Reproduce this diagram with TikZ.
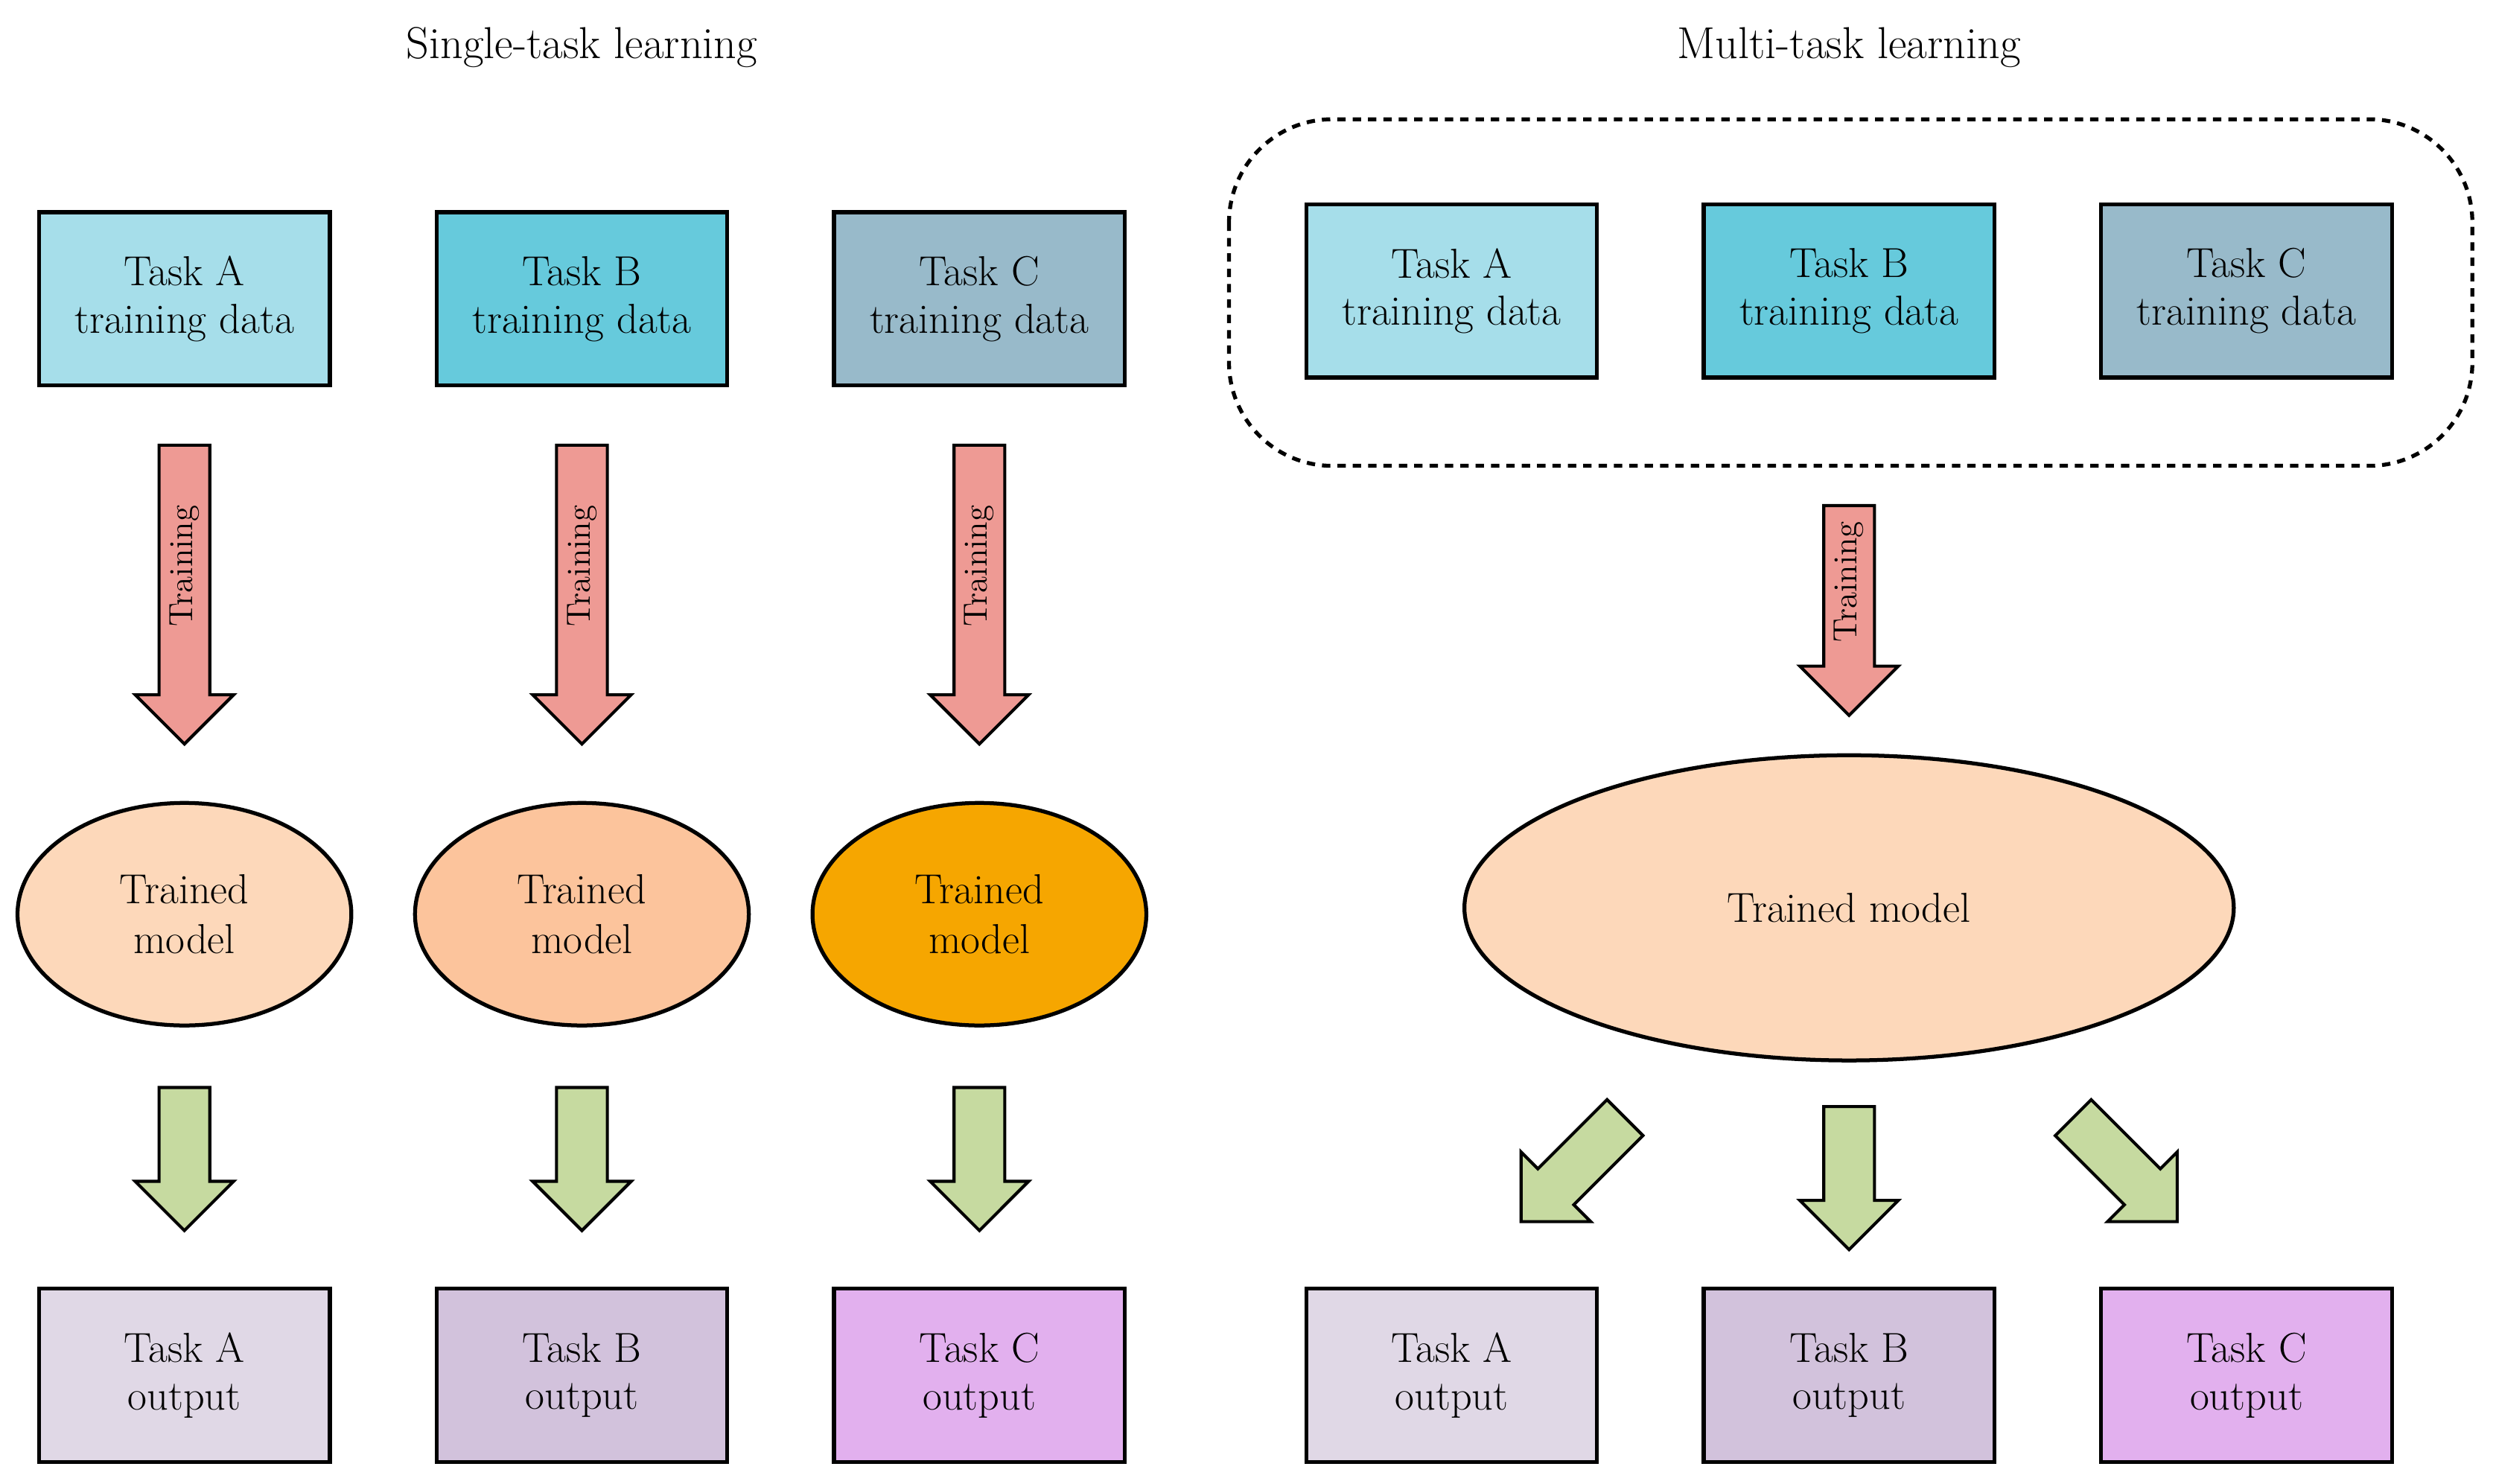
\documentclass[tikz,border=0pt]{standalone}
\usetikzlibrary{shapes.arrows,shapes.geometric,positioning}
\definecolor{dataA}{HTML}{A6DEEA}
\definecolor{dataB}{HTML}{66CADC}
\definecolor{dataC}{HTML}{98BACA}
\definecolor{modA}{HTML}{FDD8BA}
\definecolor{modB}{HTML}{FCC49C}
\definecolor{modC}{HTML}{F6A600}
\definecolor{outA}{HTML}{E0D8E6}
\definecolor{outB}{HTML}{D2C2DC}
\definecolor{outC}{HTML}{E2B0EE}
\definecolor{trainred}{HTML}{EE9A94}
\definecolor{predgreen}{HTML}{C6DAA0}
\tikzset{
  box/.style={draw, line width=1.4pt, minimum width=3.66cm, minimum height=2.18cm,
    align=center, font=\fontsize{15}{17}\selectfont},
  model/.style={draw, ellipse, line width=1.4pt, align=center, font=\fontsize{15}{18}\selectfont},
  blockarrow/.style={draw, line width=1.1pt, single arrow, inner sep=0pt, inner ysep=0.3cm,
    minimum width=1.2cm, single arrow head extend=0.3cm, single arrow head indent=0pt},
  title/.style={font=\fontsize{16}{19}\selectfont}
}
\begin{document}
\begin{tikzpicture}[x=0.02cm,y=-0.02cm]
  \useasboundingbox (0,0) rectangle (1568,933);
  % titles
  \node[title] (tsingle) at (366,30) {Single-task learning};
  \node[title] (tmulti) at (1163,30) {Multi-task learning};

  % single-task columns
  \foreach \n/\x in {A/116, B/366, C/616} {
    \node[box, fill=data\n] (sd\n) at (\x,188) {Task \n\\training data};
    \node[blockarrow, fill=trainred, rotate=-90, minimum height=3.76cm] (st\n) at (\x,366) {};
    \node[rotate=90, font=\fontsize{12}{14}\selectfont] (stl\n) at ([yshift=0.2cm]st\n) {Training};
    \node[model, fill=mod\n, minimum width=4.2cm, minimum height=2.8cm] (sm\n) at (\x,575) {Trained\\model};
    \node[blockarrow, fill=predgreen, rotate=-90, minimum height=1.8cm] (sp\n) at (\x,721) {};
    \node[box, fill=out\n] (so\n) at (\x,865) {Task \n\\output};
  }

  % multi-task column
  \draw[line width=1.4pt, dashed, dash pattern=on 3pt off 2.5pt, rounded corners=1.3cm]
    (773,75) rectangle (1555,293);
  \foreach \n/\x in {A/913, B/1163, C/1413} {
    \node[box, fill=data\n] (md\n) at (\x,183) {Task \n\\training data};
    \node[box, fill=out\n] (mo\n) at (\x,865) {Task \n\\output};
  }
  \node[blockarrow, fill=trainred, rotate=-90, minimum height=2.64cm] (mt) at (1163,376) {};
  \node[rotate=90, font=\fontsize{12}{14}\selectfont] (mtl) at ([yshift=0.2cm]mt) {Training};
  \node[model, fill=modA, minimum width=9.68cm, minimum height=3.84cm] (mm) at (1163,571) {Trained model};
  \node[blockarrow, fill=predgreen, rotate=-135, minimum height=1.85cm] (mpA) at (995,730) {};
  \node[blockarrow, fill=predgreen, rotate=-90, minimum height=1.8cm] (mpB) at (1163,733) {};
  \node[blockarrow, fill=predgreen, rotate=-45, minimum height=1.85cm] (mpC) at (1331,730) {};
\end{tikzpicture}
\end{document}
